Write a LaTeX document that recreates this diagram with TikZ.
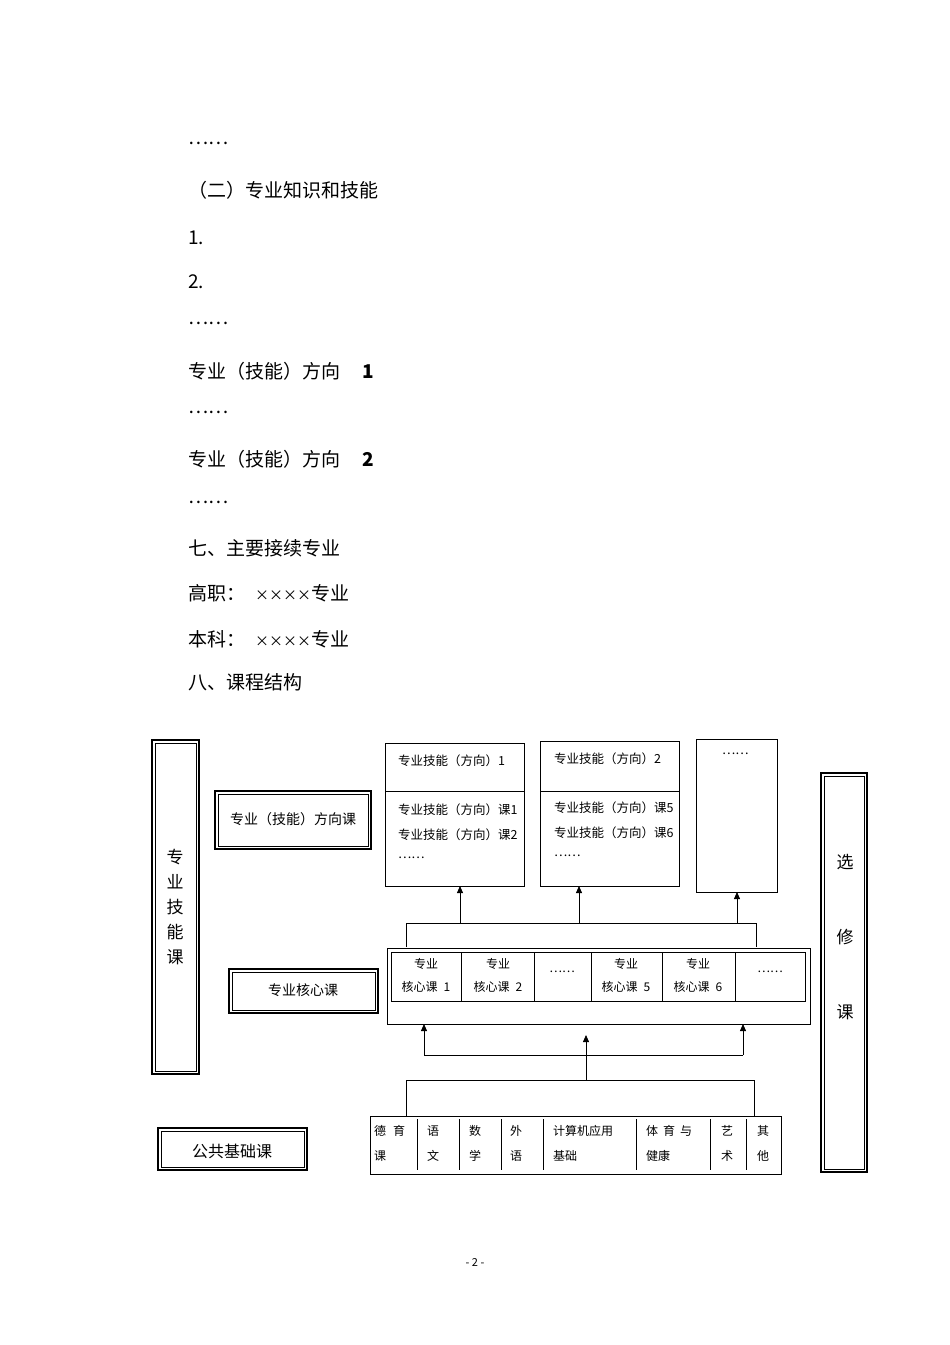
\documentclass[tikz,border=0pt]{standalone}
\usepackage{fontspec}
\setmainfont{Noto Sans CJK SC}
\usetikzlibrary{arrows.meta}
\begin{document}
\begin{tikzpicture}[x=1pt,y=-1pt,
  body/.style={anchor=west,inner sep=0pt,font=\fontsize{19}{22}\selectfont},
  sm/.style={anchor=west,inner sep=0pt,font=\fontsize{12.5}{15}\selectfont},
  xs/.style={anchor=west,inner sep=0pt,font=\fontsize{12}{14}\selectfont},
  thinbox/.style={draw,line width=0.7pt},
  outerbox/.style={draw,line width=1.8pt},
  innerbox/.style={draw,line width=0.5pt},
  arr/.style={line width=0.8pt,-{Triangle[length=7pt,width=6pt]}},
  ln/.style={line width=0.8pt}]
\useasboundingbox (0,0) rectangle (950,1345);
\fill[white] (0,0) rectangle (950,1345);
% body text
\node[body] (t1) at (188,143) {……};
\node[body] (t2) at (188,190) {（二）专业知识和技能};
\node[body] (t3) at (188,238) {1.};
\node[body] (t4) at (188,282) {2.};
\node[body] (t5) at (188,323) {……};
\node[body] (t6) at (188,371) {专业（技能）方向\hspace{22pt}\textbf{1}};
\node[body] (t7) at (188,412) {……};
\node[body] (t8) at (188,459) {专业（技能）方向\hspace{22pt}\textbf{2}};
\node[body] (t9) at (188,502) {……};
\node[body] (t10) at (188,548) {七、主要接续专业};
\node[body] (t11) at (188,593) {高职：\hspace{10pt}{\fontsize{14}{16}\selectfont ××××}专业};
\node[body] (t12) at (188,639) {本科：\hspace{10pt}{\fontsize{14}{16}\selectfont ××××}专业};
\node[body] (t13) at (188,682) {八、课程结构};
% left tall box
\draw[outerbox] (152,740) rectangle (199,1074);
\draw[innerbox] (155,743) rectangle (196,1071);
\node[inner sep=0pt,align=center,font=\fontsize{17}{25}\selectfont] (zy) at (175,907) {专\\业\\技\\能\\课};
% right tall box
\draw[outerbox] (821,773) rectangle (867,1172);
\draw[innerbox] (824,776) rectangle (864,1169);
\node[inner sep=0pt,font=\fontsize{17}{20}\selectfont] (x1) at (845,862) {选};
\node[inner sep=0pt,font=\fontsize{17}{20}\selectfont] (x2) at (845,937) {修};
\node[inner sep=0pt,font=\fontsize{17}{20}\selectfont] (x3) at (845,1012) {课};
% label boxes
\draw[outerbox] (215,791) rectangle (371,849);
\draw[innerbox] (218,794) rectangle (368,846);
\node[inner sep=0pt,font=\fontsize{14}{16}\selectfont] (l1) at (293,819) {专业（技能）方向课};
\draw[outerbox] (229,969) rectangle (378,1013);
\draw[innerbox] (232,972) rectangle (375,1010);
\node[inner sep=0pt,font=\fontsize{14}{16}\selectfont] (l2) at (303,990) {专业核心课};
\draw[outerbox] (158,1128) rectangle (307,1170);
\draw[innerbox] (161,1131) rectangle (304,1167);
\node[inner sep=0pt,font=\fontsize{16}{18}\selectfont] (l3) at (232,1151) {公共基础课};
% direction boxes
\draw[thinbox] (385,743) rectangle (524,886); \draw[thinbox] (385,791) -- (525,791);
\node[sm] at (398,761) {专业技能（方向）1};
\node[sm] at (398,810) {专业技能（方向）课1};
\node[sm] at (398,835) {专业技能（方向）课2};
\node[sm] at (398,858) {……};
\draw[thinbox] (540,741) rectangle (679,886); \draw[thinbox] (540,791) -- (680,791);
\node[sm] at (554,759) {专业技能（方向）2};
\node[sm] at (554,808) {专业技能（方向）课5};
\node[sm] at (554,833) {专业技能（方向）课6};
\node[sm] at (554,856) {……};
\draw[thinbox] (696,739) rectangle (777,892);
\node[sm] at (722,754) {……};
\coordinate (d1) at (460,886); \coordinate (d2) at (579,886); \coordinate (d3) at (737,892);
% connectors top
\draw[ln] (406,947) -- (406,923) -- (756,923) -- (756,947);
\draw[arr] (460,923) -- (d1);
\draw[arr] (579,923) -- (d2);
\draw[arr] (737,923) -- (d3);
% core box
\draw[thinbox] (387,948) rectangle (810,1024);
\draw[thinbox] (391,952) rectangle (805,1001);
\foreach \x in {461,534,591,662,735} \draw[thinbox] (\x,952) -- (\x,1001);
\node[xs,anchor=center] at (426,964) {专业}; \node[xs,anchor=center] at (426,987) {核心课\hspace{6pt}1};
\node[xs,anchor=center] at (498,964) {专业}; \node[xs,anchor=center] at (498,987) {核心课\hspace{6pt}2};
\node[xs,anchor=center] at (562,972) {……};
\node[xs,anchor=center] at (626,964) {专业}; \node[xs,anchor=center] at (626,987) {核心课\hspace{6pt}5};
\node[xs,anchor=center] at (698,964) {专业}; \node[xs,anchor=center] at (698,987) {核心课\hspace{6pt}6};
\node[xs,anchor=center] at (770,972) {……};
% connectors bottom
\draw[ln] (424,1055) -- (743,1055);
\draw[arr] (424,1055) -- (424,1024);
\draw[arr] (743,1055) -- (743,1024);
\draw[ln] (406,1116) -- (406,1080) -- (754,1080) -- (754,1116);
\draw[arr] (586,1080) -- (586,1035);
% bottom row
\draw[thinbox] (370,1116) rectangle (781,1174);
\foreach \x in {417,459,501,543,636,710,746} \draw[thinbox] (\x,1119) -- (\x,1170);
\node[xs] at (374,1131) {德\hspace{7pt}育}; \node[xs] at (374,1156) {课};
\node[xs] at (427,1131) {语}; \node[xs] at (427,1156) {文};
\node[xs] at (469,1131) {数}; \node[xs] at (469,1156) {学};
\node[xs] at (510,1131) {外}; \node[xs] at (510,1156) {语};
\node[xs] at (553,1131) {计算机应用}; \node[xs] at (553,1156) {基础};
\node[xs] at (646,1131) {体\hspace{5pt}育\hspace{5pt}与}; \node[xs] at (646,1156) {健康};
\node[xs] at (721,1131) {艺}; \node[xs] at (721,1156) {术};
\node[xs] at (757,1131) {其}; \node[xs] at (757,1156) {他};
\node[inner sep=0pt,font=\fontsize{11}{12}\selectfont] (pg) at (475,1262) {- 2 -};
\end{tikzpicture}
\end{document}
